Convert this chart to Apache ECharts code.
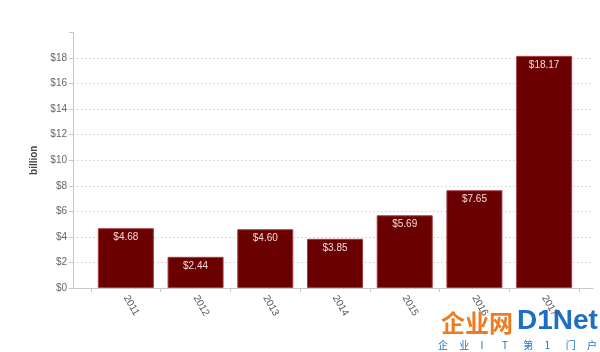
<!DOCTYPE html>
<html>
<head>
<meta charset="utf-8">
<script src="https://cdn.jsdelivr.net/npm/echarts@6/dist/echarts.min.js"></script>
<style>html,body{margin:0;padding:0;background:#fff;}#c{width:600px;height:352px;}</style>
</head>
<body>
<div id="c"></div>
<script>
const years = ['2011', '2012', '2013', '2014', '2015', '2016', '2017'];
const values = [4.68, 2.44, 4.60, 3.85, 5.69, 7.65, 18.17];
const yMax = 20;
const yStep = 2;
const yAxisName = 'billion';
const watermarkChars = ['企', '业', 'I', 'T', '第', '1', '门', '户'];

const font = "'Liberation Sans', Arial, sans-serif";
const gridColors = [];
for (let v = 0; v <= yMax; v += yStep) gridColors.push(v === 0 || v === yMax ? 'rgba(0,0,0,0)' : '#dcdcdc');

const wm = [
  { type: 'text', left: 441, top: 311, style: { text: '企业网', fill: '#f07a1e', font: "bold 24px 'Noto Sans CJK SC', sans-serif" } },
  { type: 'text', left: 517, top: 307, style: { text: 'D1Net', fill: '#1d6fc4', font: "bold 28px 'Liberation Sans', sans-serif" } }
];
watermarkChars.forEach((ch, i) => {
  wm.push({ type: 'text', left: 438 + i * 21.3, top: 340, style: { text: ch, fill: '#1d6fc4', font: "10px 'Noto Sans CJK SC', sans-serif" } });
});

const chart = echarts.init(document.getElementById('c'));
chart.setOption({
  animation: false,
  backgroundColor: '#fff',
  grid: [
    { left: 91, right: 21, top: 32.5, bottom: 64 },
    { left: 73, right: 7, top: 32.5, bottom: 64 }
  ],
  xAxis: [
    {
      type: 'category', gridIndex: 0, data: years,
      axisLine: { show: true, lineStyle: { color: '#c8c8c8' } },
      axisTick: { show: true, length: 4, lineStyle: { color: '#c8c8c8' } },
      axisLabel: { interval: 0, rotate: -60, margin: 8, color: '#555', fontSize: 10, fontFamily: font }
    },
    {
      type: 'value', gridIndex: 1, min: 0, max: 1,
      axisLine: { show: true, lineStyle: { color: '#c8c8c8' } },
      axisTick: { show: false }, axisLabel: { show: false }, splitLine: { show: false }
    }
  ],
  yAxis: [
    {
      type: 'value', gridIndex: 0, min: 0, max: yMax, interval: yStep, show: false
    },
    {
      type: 'value', gridIndex: 1, min: 0, max: yMax, interval: yStep,
      name: yAxisName, nameLocation: 'middle', nameGap: 33, nameRotate: 90,
      nameTextStyle: { color: '#444', fontSize: 10, fontWeight: 'bold', fontFamily: font },
      axisLine: { show: true, lineStyle: { color: '#c8c8c8' } },
      axisTick: { show: true, length: 4, lineStyle: { color: '#c8c8c8' } },
      axisLabel: {
        color: '#666', fontSize: 10, fontFamily: font, margin: 6,
        formatter: v => v === yMax ? '' : '$' + v
      },
      splitLine: { show: true, lineStyle: { color: gridColors, type: [2, 2], width: 1 } }
    }
  ],
  series: [{
    type: 'bar', xAxisIndex: 0, yAxisIndex: 0, data: values,
    barWidth: 56,
    itemStyle: { color: '#6b0000', borderColor: '#a83a3a', borderWidth: 1 },
    label: {
      show: true, position: 'insideTop', distance: 4,
      color: '#f3dada', fontSize: 10, fontFamily: font,
      formatter: p => '$' + p.value.toFixed(2)
    }
  }],
  graphic: wm
});
</script>
</body>
</html>
